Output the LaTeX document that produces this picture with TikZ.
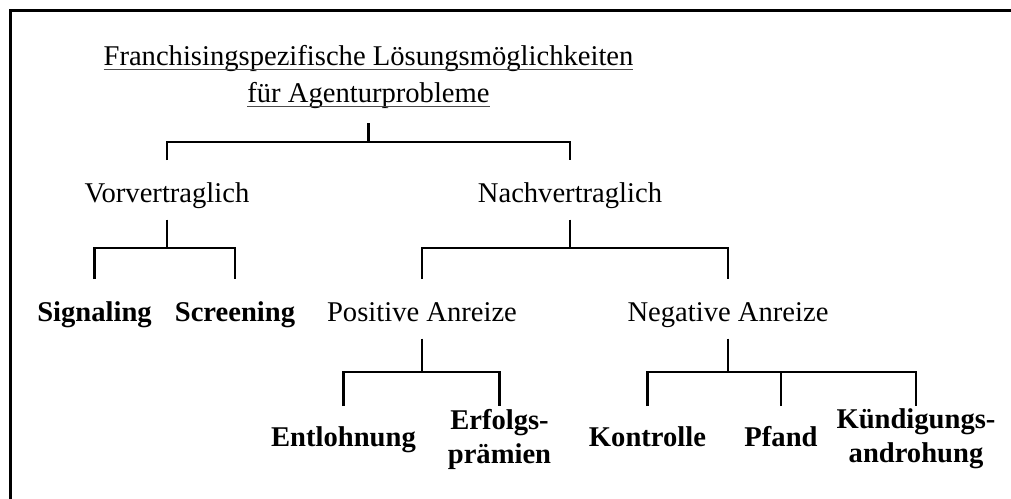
\documentclass[tikz,border=0pt]{standalone}
\usepackage{fontspec}
\setmainfont{Liberation Serif}
\begin{document}
\begin{tikzpicture}[x=0.5pt,y=-0.5pt,
  txt/.style={inner sep=0pt, outer sep=0pt, font=\fontsize{14.3pt}{17pt}\selectfont},
  bold/.style={txt, font=\fontsize{14.3pt}{17pt}\selectfont\bfseries},
  mid/.style={txt, anchor=base, text height=21pt, text depth=8.75pt},
  boldmid/.style={bold, anchor=base, text height=21pt, text depth=8.75pt},
  leaf/.style={bold, anchor=base, text height=20pt, text depth=4pt},
  twoline/.style={bold, align=center, anchor=north, outer ysep=1.5pt},
  tree/.style={line width=1.25pt, line join=miter},
  frame/.style={line width=1.5pt, line join=miter},
  uline/.style={line width=0.55pt, black!70}]
\useasboundingbox (0,0) rectangle (1011,498);

% open frame: left and top edges
\draw[frame] (10.5,530) -- (10.5,10.5) -- (1040,10.5);

% heading
\node[txt, anchor=base] (t1) at (368.5,65.5) {Franchisingspezifische Lösungsmöglichkeiten};
\node[txt, anchor=base, text depth=10.25pt] (t2) at (368.5,102.5) {für Agenturprobleme};
\draw[uline] ([yshift=-2pt]t1.base west) -- ([yshift=-2pt]t1.base east);
\draw[uline] ([yshift=-2pt]t2.base west) -- ([yshift=-2pt]t2.base east);

% second level
\node[mid] (vor) at (167,202) {Vorvertraglich};
\node[mid] (nach) at (570,202) {Nachvertraglich};

% third level
\node[boldmid] (sig) at (94.5,321) {Signaling};
\node[boldmid] (scr) at (235,321) {Screening};
\node[mid] (pos) at (422,321) {Positive Anreize};
\node[mid] (neg) at (728,321) {Negative Anreize};

% fourth level
\node[leaf] (ent) at (343.5,446) {Entlohnung};
\node[twoline] (erf) at (499.5,406) {Erfolgs-\\prämien};
\node[leaf] (kon) at (647.5,446) {Kontrolle};
\node[leaf] (pfa) at (781,446) {Pfand};
\node[twoline] (kue) at (916,406) {Kündigungs-\\androhung};

% connectors
\coordinate (j0) at (t2.south |- 0,142);
\draw[tree] (t2.south) -- (j0);
\draw[tree] (vor.north) |- (j0) -| (nach.north);

\coordinate (j1) at (vor.south |- 0,248);
\draw[tree] (vor.south) -- (j1);
\draw[tree] (sig.north) |- (j1) -| (scr.north);

\coordinate (j2) at (nach.south |- 0,248);
\draw[tree] (nach.south) -- (j2);
\draw[tree] (pos.north) |- (j2) -| (neg.north);

\coordinate (j3) at (pos.south |- 0,372);
\draw[tree] (pos.south) -- (j3);
\draw[tree] (ent.north) |- (j3) -| (erf.north);

\coordinate (j4) at (neg.south |- 0,372);
\draw[tree] (neg.south) -- (j4);
\draw[tree] (kon.north) |- (j4) -| (kue.north);
\draw[tree] (pfa.north) -- (pfa.north |- j4);
\end{tikzpicture}
\end{document}
